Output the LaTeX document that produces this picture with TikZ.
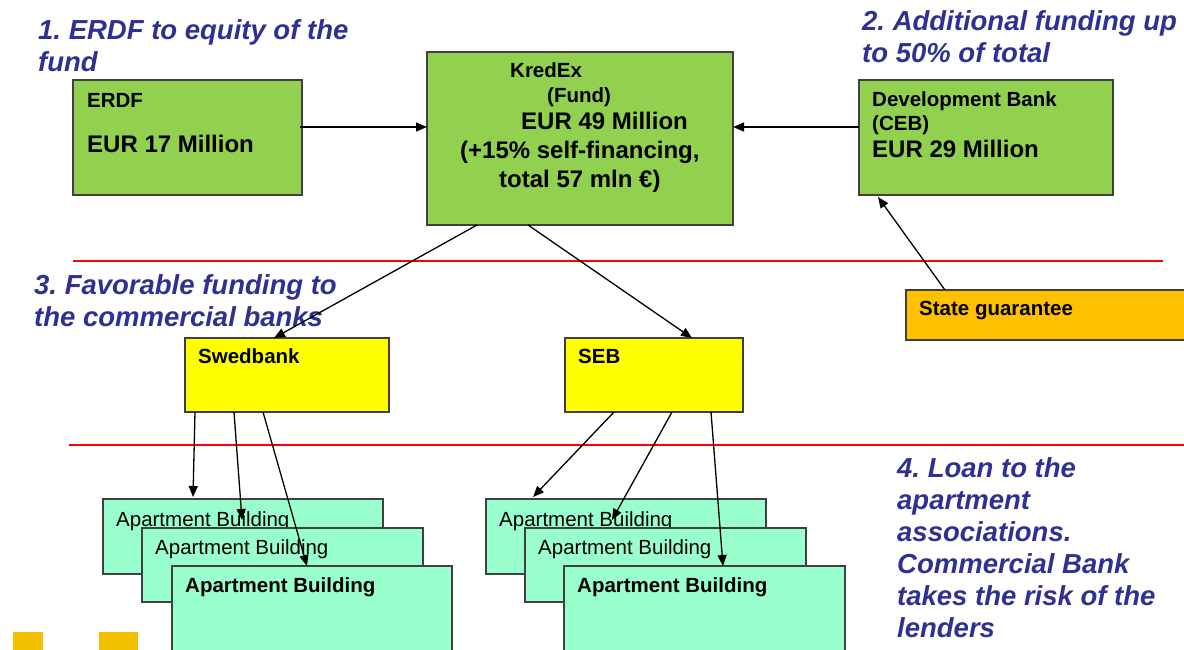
\documentclass[tikz,border=0pt]{standalone}
\usepackage{fontspec}
\setmainfont{Liberation Sans}
\frenchspacing
\usetikzlibrary{arrows.meta,calc}
\definecolor{boxgreen}{HTML}{92D050}
\definecolor{byellow}{HTML}{FFFF00}
\definecolor{borange}{HTML}{FFC000}
\definecolor{mint}{HTML}{99FFCC}
\definecolor{navy}{HTML}{2E3192}
\definecolor{edgegray}{HTML}{404040}
\definecolor{sqyellow}{HTML}{F2C200}
\begin{document}
\begin{tikzpicture}[x=1pt,y=-1pt,
  box/.style={draw=edgegray,line width=1.2pt,anchor=north west,inner sep=0pt,outer sep=0pt},
  gbox/.style={box,fill=boxgreen},
  ybox/.style={box,fill=byellow},
  obox/.style={box,fill=borange},
  abox/.style={box,fill=mint},
  sq/.style={fill=sqyellow,anchor=north west,inner sep=0pt,outer sep=0pt},
  title/.style={anchor=base west,inner sep=0pt,font=\fontsize{27.5}{32}\selectfont\bfseries\itshape,text=navy,align=left},
  lbl/.style={anchor=base west,inner sep=0pt,font=\fontsize{20.5}{24}\selectfont\bfseries},
  big/.style={anchor=base west,inner sep=0pt,font=\fontsize{24}{28}\selectfont\bfseries},
  reg/.style={anchor=base west,inner sep=0pt,font=\fontsize{20.5}{24}\selectfont},
  arr/.style={-{Triangle[length=11pt,width=9pt]},line width=1.3pt},
  redline/.style={draw=red,line width=1.5pt}
]
\useasboundingbox (0,0) rectangle (1184,649);

% red separators
\draw[redline] (73,261) -- (1163,261);
\draw[redline] (69,445) -- (1184,445);

% titles (anchor is the baseline of the last line)
\node[title] (t1) at (38,71) {1. ERDF to equity of the\\fund};
\node[title] (t2) at (862,62) {2. Additional funding up\\to 50\% of total};
\node[title] (t3) at (34,326) {3. Favorable funding to\\the commercial banks};
\node[title] (t4) at (897,637) {4. Loan to the\\apartment\\associations.\\Commercial Bank\\takes the risk of the\\lenders};

% top boxes
\node[gbox,minimum width=229pt,minimum height=115pt] (erdf) at (73,80) {};
\node[gbox,minimum width=306pt,minimum height=173pt] (kredex) at (427,52) {};
\node[gbox,minimum width=254pt,minimum height=115pt] (ceb) at (859,80) {};
\node[obox,minimum width=290pt,minimum height=50pt] (state) at (906,290) {};

\node[lbl] (erdf1) at (87,107) {ERDF};
\node[big] (erdf2) at (87,152) {EUR 17 Million};

\node[lbl] (kx1) at (510,77) {KredEx};
\node[lbl] (kx2) at (547,102) {(Fund)};
\node[big] (kx3) at (521,129) {EUR 49 Million};
\node[big] (kx4) at (460,158) {(+15\% self-financing,};
\node[big] (kx5) at (499,187) {total 57 mln €)};

\node[lbl] (ceb1) at (872,106) {Development Bank};
\node[lbl] (ceb2) at (872,130) {(CEB)};
\node[big] (ceb3) at (872,157) {EUR 29 Million};

\node[lbl] (st1) at (919,315) {State guarantee};

% banks
\node[ybox,minimum width=204pt,minimum height=74pt] (swed) at (185,338) {};
\node[ybox,minimum width=178pt,minimum height=74pt] (seb) at (565,338) {};
\node[lbl] (swedt) at (198,363) {Swedbank};
\node[lbl] (sebt) at (578,363) {SEB};

% apartment buildings left
\node[abox,minimum width=280pt,minimum height=75pt] (a1) at (103,499) {};
\node[reg] (a1t) at (116,526) {Apartment Building};
\node[abox,minimum width=281pt,minimum height=74pt] (a2) at (142,528) {};
\node[reg] (a2t) at (155,554) {Apartment Building};
\node[abox,minimum width=280pt,minimum height=95pt] (a3) at (172,566) {};
\node[lbl] (a3t) at (185,592) {Apartment Building};

% apartment buildings right
\node[abox,minimum width=280pt,minimum height=75pt] (b1) at (486,499) {};
\node[reg] (b1t) at (499,526) {Apartment Building};
\node[abox,minimum width=281pt,minimum height=74pt] (b2) at (525,528) {};
\node[reg] (b2t) at (538,554) {Apartment Building};
\node[abox,minimum width=281pt,minimum height=95pt] (b3) at (564,566) {};
\node[lbl] (b3t) at (577,592) {Apartment Building};

% yellow squares
\node[sq,minimum width=30pt,minimum height=20pt] (sq1) at (13,632) {};
\node[sq,minimum width=39pt,minimum height=20pt] (sq2) at (99,632) {};

% connectors
\draw[arr] ($(erdf.north east)+(-2,47)$) -- ($(kredex.north west)+(0,75)$);
\draw[arr] ($(ceb.north west)+(0,47)$) -- ($(kredex.north east)+(0,75)$);
\draw[arr] ($(state.north west)+(39,0)$) -- ($(ceb.south west)+(19,2)$);
\draw[arr] ($(kredex.south west)+(50,0)$) -- ($(swed.north west)+(89,0)$);
\draw[arr] ($(kredex.south west)+(101,0)$) -- ($(seb.north west)+(127,0)$);
\draw[arr] ($(swed.south west)+(10,0)$) -- ($(a1.north west)+(90,-2)$);
\draw[arr] ($(swed.south west)+(49,0)$) -- ($(a2.north west)+(100,-8)$);
\draw[arr] ($(swed.south west)+(78,0)$) -- ($(a3.north west)+(135,0)$);
\draw[arr] ($(seb.south west)+(49,0)$) -- ($(b1.north west)+(47,-2)$);
\draw[arr] ($(seb.south west)+(107,0)$) -- ($(b2.north west)+(87,-8)$);
\draw[arr] ($(seb.south west)+(146,0)$) -- ($(b3.north west)+(159,0)$);
\end{tikzpicture}
\end{document}
